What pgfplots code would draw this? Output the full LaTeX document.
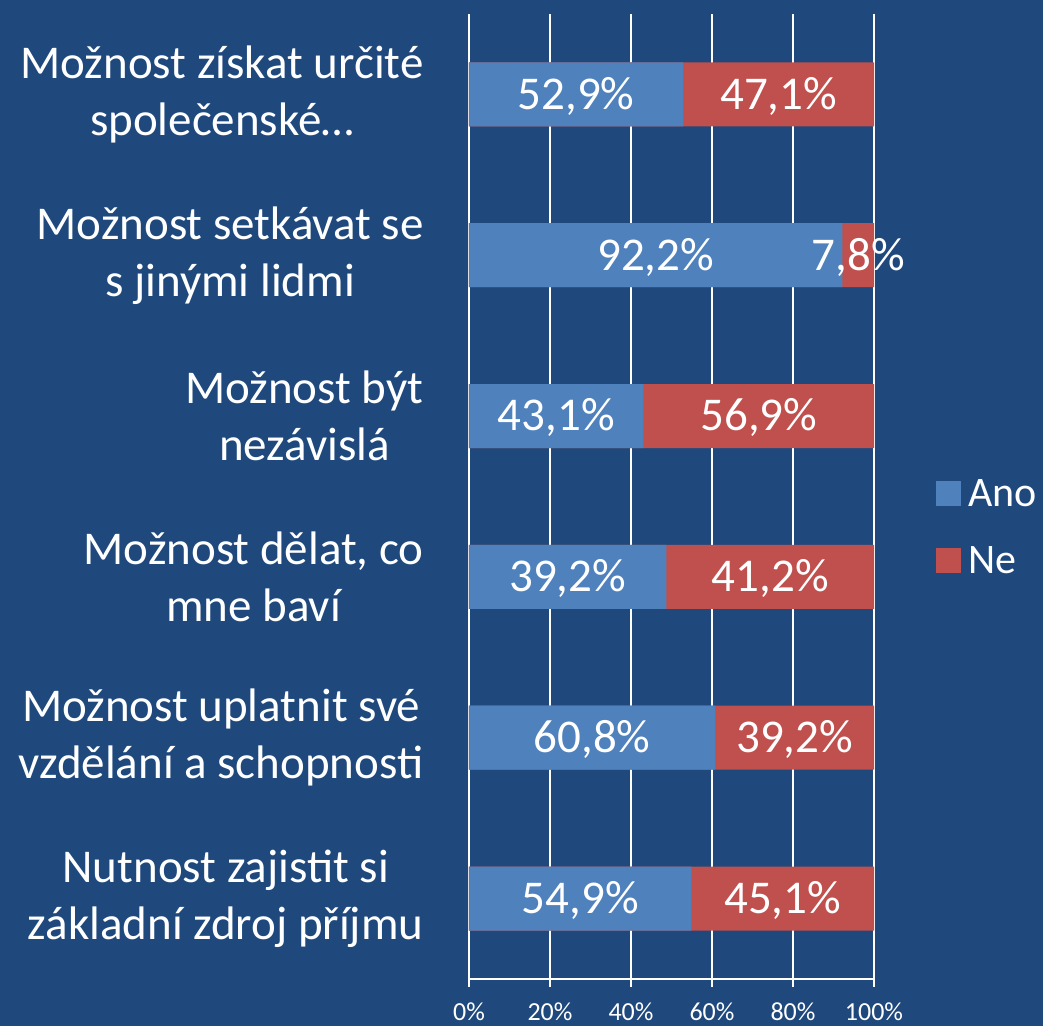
\documentclass[border=0pt]{standalone}
\usepackage{pgfplots}
\pgfplotsset{compat=1.18}
\usepackage{pgfplotstable}
\usepackage{fontspec}
\setmainfont{Carlito}
\usetikzlibrary{backgrounds}
\definecolor{bg}{HTML}{1F497D}
\definecolor{ano}{HTML}{4F81BD}
\definecolor{ne}{HTML}{C0504D}

% y: 5 = top row
\pgfplotstableread{
y ano ne
5 52.9 47.1
4 92.2 7.8
3 43.1 56.9
2 39.2 41.2
1 60.8 39.2
0 54.9 45.1
}\data

\begin{document}
\begin{tikzpicture}
\begin{axis}[
  scale only axis, width=202.5pt, height=482.5pt,
  xmin=0, xmax=100, ymin=-0.5, ymax=5.5,
  axis lines=left, axis line style={white, line width=1pt, -},
  tick align=outside,
  xtick={0,20,40,60,80,100},
  xticklabels={0\%,20\%,40\%,60\%,80\%,100\%},
  xticklabel style={text=white, font=\fontsize{13}{15}\selectfont, inner sep=0pt, text height=8.2pt, text depth=0pt, yshift=-8.5pt},
  x tick style={white, line width=1pt},
  major tick length=4pt,
  xmajorgrids, grid style={white, line width=1pt},
  ytick={0,1,2,3,4,5},
  yticklabels={{Nutnost zajistit si\\základní zdroj příjmu},
               {Možnost uplatnit své\\vzdělání a schopnosti},
               {Možnost dělat, co\\mne baví},
               {Možnost být\\nezávislá},
               {Možnost setkávat se\\s jinými lidmi},
               {Možnost získat určité\\společenské…}},
  yticklabel style={text=white, font=\fontsize{23.5}{28.5}\selectfont, align=center, inner sep=0pt, xshift=-18.5pt},
  y tick style={draw=none},
  extra y ticks={-0.5,0.5,1.5,2.5,3.5,4.5,5.5},
  extra y tick labels={},
  extra y tick style={major tick length=7pt, tick style={draw=white, line width=1pt}},
  legend image code/.code={\fill[#1, draw=none] (0pt,-6.25pt) rectangle (12.5pt,6.25pt);},
  legend style={at={(1,0.468)}, anchor=west, xshift=31pt, draw=none, fill=none, inner sep=0pt,
    font=\fontsize{21}{25}\selectfont, text=white, row sep=21pt,
    nodes={inner xsep=3.5pt, inner ysep=0pt, text height=12.5pt, text depth=0pt}},
  legend cell align=left,
  every node near coord/.append style={text=white, font=\fontsize{23.5}{28.5}\selectfont, inner sep=0pt, text height=14.9pt, text depth=0pt},
  nodes near coords align={center},
]
% Ne fills each row up to 100 %, Ano is drawn over it
\addplot[xbar, bar width=32pt, bar shift=0pt, fill=ne, draw=none, forget plot]
  table[y=y, x expr={100*(\thisrow{ano}+\thisrow{ne})/(\thisrow{ano}+\thisrow{ne})}]{\data};
\addplot[xbar, bar width=32pt, bar shift=0pt, fill=ano, draw=none, forget plot]
  table[y=y, x expr={100*\thisrow{ano}/(\thisrow{ano}+\thisrow{ne})}]{\data};
% value labels centred in the segments
\addplot[only marks, mark=*, mark size=0pt, draw=none, fill=none, forget plot,
  point meta=\thisrow{ano},
  nodes near coords={\pgfmathprintnumber[fixed,fixed zerofill,precision=1,use comma,assume math mode=true]{\pgfplotspointmeta}\%}]
  table[y=y, x expr={50*\thisrow{ano}/(\thisrow{ano}+\thisrow{ne})}]{\data};
\addplot[only marks, mark=*, mark size=0pt, draw=none, fill=none, forget plot,
  point meta=\thisrow{ne},
  nodes near coords={\pgfmathprintnumber[fixed,fixed zerofill,precision=1,use comma,assume math mode=true]{\pgfplotspointmeta}\%}]
  table[y=y, x expr={100*(\thisrow{ano}+0.5*\thisrow{ne})/(\thisrow{ano}+\thisrow{ne})}]{\data};
\addlegendimage{fill=ano}
\addlegendentry{Ano}
\addlegendimage{fill=ne}
\addlegendentry{Ne}
\end{axis}
\begin{scope}[on background layer]
\fill[bg] (-234.5pt,-23.5pt) rectangle (287pt,489.5pt);
\end{scope}
\pgfresetboundingbox
\useasboundingbox (-234.5pt,-23.5pt) rectangle (287pt,489.5pt);
\end{tikzpicture}
\end{document}
